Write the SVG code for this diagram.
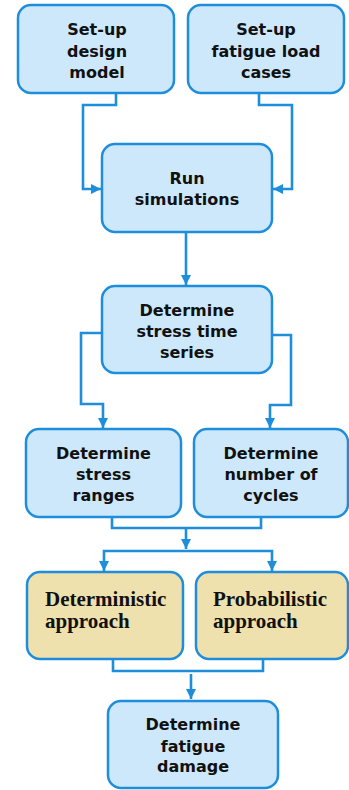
<svg xmlns="http://www.w3.org/2000/svg" width="349" height="790" viewBox="0 0 349 790">
  <defs>
    <style>
      .box { fill: #CDE8FB; stroke: #1E8EDC; stroke-width: 2.5; }
      .tan { fill: #EFE1AE; stroke: #1E8EDC; stroke-width: 2.5; }
      .lbl { font-family: "DejaVu Sans", Verdana, sans-serif; font-weight: bold; font-size: 16px; fill: #111; text-anchor: middle; }
      .ser { font-family: "Liberation Serif", "Times New Roman", serif; font-weight: bold; font-size: 21px; fill: #111; }
      .wire { fill: none; stroke: #1E8EDC; stroke-width: 2.6; }
    </style>
    <marker id="ah" viewBox="0 0 10 10" refX="10" refY="5" markerWidth="10" markerHeight="10" markerUnits="userSpaceOnUse" orient="auto">
      <path d="M0,0 L10,5 L0,10 z" fill="#1E8EDC"/>
    </marker>
  </defs>

  <g id="connectors">
    <polyline class="wire" points="116,93 116,105 83,105 83,189 101,189" marker-end="url(#ah)"/>
    <polyline class="wire" points="259,93 259,105 292,105 292,189 273,189" marker-end="url(#ah)"/>
    <polyline class="wire" points="186,232 186,285" marker-end="url(#ah)"/>
    <polyline class="wire" points="102,333 81,333 81,404 103,404 103,428" marker-end="url(#ah)"/>
    <polyline class="wire" points="272,335 291,335 291,405 270,405 270,428" marker-end="url(#ah)"/>
    <polyline class="wire" points="112,517 112,528 261,528 261,517"/>
    <polyline class="wire" points="186,528 186,549" marker-end="url(#ah)"/>
    <polyline class="wire" points="186,551 104,551 104,571" marker-end="url(#ah)"/>
    <polyline class="wire" points="186,551 272,551 272,571" marker-end="url(#ah)"/>
    <polyline class="wire" points="113,659 113,671 263,671 263,659"/>
    <polyline class="wire" points="191,674 191,699" marker-end="url(#ah)"/>
  </g>

  <g id="setup-design">
    <rect class="box" x="18" y="5" width="156" height="88" rx="13"/>
    <text class="lbl" x="97" y="35">Set-up</text>
    <text class="lbl" x="97" y="56.5">design</text>
    <text class="lbl" x="97" y="77.5">model</text>
  </g>

  <g id="setup-loads">
    <rect class="box" x="188" y="5" width="156" height="88" rx="13"/>
    <text class="lbl" x="266" y="35">Set-up</text>
    <text class="lbl" x="266" y="56.5">fatigue load</text>
    <text class="lbl" x="266" y="77.5">cases</text>
  </g>

  <g id="run-simulations">
    <rect class="box" x="102" y="144" width="170" height="88" rx="13"/>
    <text class="lbl" x="187" y="184">Run</text>
    <text class="lbl" x="187" y="205">simulations</text>
  </g>

  <g id="stress-series">
    <rect class="box" x="102" y="286" width="170" height="87" rx="13"/>
    <text class="lbl" x="187" y="316">Determine</text>
    <text class="lbl" x="187" y="337">stress time</text>
    <text class="lbl" x="187" y="358">series</text>
  </g>

  <g id="stress-ranges">
    <rect class="box" x="26" y="429" width="155" height="88" rx="13"/>
    <text class="lbl" x="103.5" y="459">Determine</text>
    <text class="lbl" x="103.5" y="480">stress</text>
    <text class="lbl" x="103.5" y="501">ranges</text>
  </g>

  <g id="cycle-count">
    <rect class="box" x="194" y="429" width="154" height="88" rx="13"/>
    <text class="lbl" x="271" y="459">Determine</text>
    <text class="lbl" x="271" y="480">number of</text>
    <text class="lbl" x="271" y="501">cycles</text>
  </g>

  <g id="deterministic">
    <rect class="tan" x="27" y="572" width="156" height="87" rx="13"/>
    <text class="ser" x="45" y="606">Deterministic</text>
    <text class="ser" x="45" y="628">approach</text>
  </g>

  <g id="probabilistic">
    <rect class="tan" x="196" y="572" width="152" height="87" rx="13"/>
    <text class="ser" x="213" y="606">Probabilistic</text>
    <text class="ser" x="213" y="628">approach</text>
  </g>

  <g id="fatigue-damage">
    <rect class="box" x="108" y="701" width="170" height="87" rx="13"/>
    <text class="lbl" x="193" y="730">Determine</text>
    <text class="lbl" x="193" y="751.5">fatigue</text>
    <text class="lbl" x="193" y="772">damage</text>
  </g>
</svg>
